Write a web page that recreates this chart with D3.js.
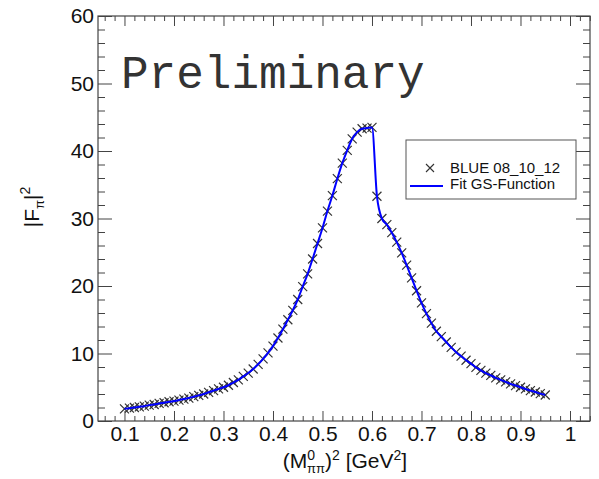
<!DOCTYPE html>
<html>
<head>
<meta charset="utf-8">
<script src="https://cdn.jsdelivr.net/npm/d3@7"></script>
<style>
  body { margin: 0; background: #fff; }
  svg { display: block; font-family: "Liberation Sans", Arial, sans-serif; }
</style>
</head>
<body>
<div id="chart"></div>
<script>
// squared pi-pi mass [GeV^2]
var massSq = [0.10, 0.11, 0.12, 0.13, 0.14, 0.15, 0.16, 0.17, 0.18, 0.19,
              0.20, 0.21, 0.22, 0.23, 0.24, 0.25, 0.26, 0.27, 0.28, 0.29,
              0.30, 0.31, 0.32, 0.33, 0.34, 0.35, 0.36, 0.37, 0.38, 0.39,
              0.40, 0.41, 0.42, 0.43, 0.44, 0.45, 0.46, 0.47, 0.48, 0.49,
              0.50, 0.51, 0.52, 0.53, 0.54, 0.55, 0.56, 0.57, 0.58, 0.59,
              0.60, 0.61, 0.62, 0.63, 0.64, 0.65, 0.66, 0.67, 0.68, 0.69,
              0.70, 0.71, 0.72, 0.73, 0.74, 0.75, 0.76, 0.77, 0.78, 0.79,
              0.80, 0.81, 0.82, 0.83, 0.84, 0.85, 0.86, 0.87, 0.88, 0.89,
              0.90, 0.91, 0.92, 0.93, 0.94, 0.95];
// |F_pi|^2 (BLUE 08_10_12)
var formFactor = [1.8, 1.9, 2.0, 2.1, 2.2, 2.35, 2.45, 2.6, 2.7, 2.85,
                  2.95, 3.1, 3.25, 3.4, 3.6, 3.8, 4.0, 4.25, 4.5, 4.75,
                  5.0, 5.3, 5.7, 6.1, 6.6, 7.1, 7.7, 8.4, 9.2, 10.1,
                  11.1, 12.3, 13.6, 15.0, 16.4, 18.0, 19.9, 21.8, 24.0, 26.3,
                  28.6, 31.1, 33.4, 35.9, 38.2, 40.1, 41.8, 42.8, 43.3, 43.4,
                  43.5, 33.3, 30.0, 29.1, 27.9, 26.5, 24.9, 23.1, 21.2, 19.3,
                  17.5, 15.9, 14.5, 13.3, 12.5, 11.7, 10.9, 10.2, 9.6, 9.0,
                  8.5, 7.95, 7.5, 7.1, 6.75, 6.4, 6.1, 5.8, 5.5, 5.25,
                  5.0, 4.75, 4.5, 4.3, 4.05, 3.85];

var xTicks = [0.1, 0.2, 0.3, 0.4, 0.5, 0.6, 0.7, 0.8, 0.9, 1];
var yTicks = [0, 10, 20, 30, 40, 50, 60];
var legendLabels = ["BLUE 08_10_12", "Fit GS-Function"];

var width = 599, height = 479;
var frame = { left: 98, right: 590, top: 16, bottom: 421 };

var svg = d3.select("#chart").append("svg")
    .attr("width", width)
    .attr("height", height);

var x = d3.scaleLinear().domain([0.0465, 1.0404]).range([frame.left, frame.right]);
var y = d3.scaleLinear().domain([0, 60]).range([frame.bottom, frame.top]);

var xMinor = d3.range(0.06, 1.045, 0.02).filter(function (v) {
    return Math.abs(v * 10 - Math.round(v * 10)) > 0.01;
});
var yMinor = d3.range(0, 61, 2).filter(function (v) { return v % 10 != 0; });

function styleAxis(g) {
    g.select(".domain").remove();
    g.selectAll("line").attr("stroke", "#444");
    g.selectAll("text").attr("fill", "#111").style("font-size", "21px");
}

// left
svg.append("g").attr("transform", "translate(" + frame.left + ",0)")
    .call(d3.axisLeft(y).tickValues(yTicks).tickSize(-14).tickPadding(4))
    .call(styleAxis);
svg.append("g").attr("transform", "translate(" + frame.left + ",0)")
    .call(d3.axisLeft(y).tickValues(yMinor).tickSize(-7).tickFormat(""))
    .call(styleAxis);
// right
svg.append("g").attr("transform", "translate(" + frame.right + ",0)")
    .call(d3.axisRight(y).tickValues(yTicks).tickSize(-14).tickFormat(""))
    .call(styleAxis);
svg.append("g").attr("transform", "translate(" + frame.right + ",0)")
    .call(d3.axisRight(y).tickValues(yMinor).tickSize(-7).tickFormat(""))
    .call(styleAxis);
// bottom
svg.append("g").attr("transform", "translate(0," + frame.bottom + ")")
    .call(d3.axisBottom(x).tickValues(xTicks).tickSize(-10).tickPadding(5)
        .tickFormat(function (d) { return d == 1 ? "1" : d3.format(".1f")(d); }))
    .call(styleAxis);
svg.append("g").attr("transform", "translate(0," + frame.bottom + ")")
    .call(d3.axisBottom(x).tickValues(xMinor).tickSize(-5).tickFormat(""))
    .call(styleAxis);
// top
svg.append("g").attr("transform", "translate(0," + frame.top + ")")
    .call(d3.axisTop(x).tickValues(xTicks).tickSize(-10).tickFormat(""))
    .call(styleAxis);
svg.append("g").attr("transform", "translate(0," + frame.top + ")")
    .call(d3.axisTop(x).tickValues(xMinor).tickSize(-5).tickFormat(""))
    .call(styleAxis);

svg.append("rect")
    .attr("x", frame.left).attr("y", frame.top)
    .attr("width", frame.right - frame.left)
    .attr("height", frame.bottom - frame.top)
    .attr("fill", "none").attr("stroke", "#444").attr("stroke-width", 1.2);

// Preliminary
svg.append("text")
    .attr("x", 121).attr("y", 88)
    .style("font-family", "'Liberation Mono', 'DejaVu Sans Mono', monospace")
    .style("font-size", "46px")
    .attr("fill", "#333")
    .text("Preliminary");

var data = massSq.map(function (m, i) { return { m: m, f: formFactor[i] }; });

var crossPath = "M-4.5,-4.5L4.5,4.5M-4.5,4.5L4.5,-4.5";
svg.append("g").selectAll("path")
    .data(data)
    .enter().append("path")
    .attr("transform", function (d) { return "translate(" + x(d.m) + "," + y(d.f) + ")"; })
    .attr("d", crossPath)
    .attr("stroke", "#333")
    .attr("stroke-width", 1.2)
    .attr("fill", "none");

var fitLine = d3.line()
    .x(function (d) { return x(d.m); })
    .y(function (d) { return y(d.f); })
    .curve(d3.curveMonotoneX);

svg.append("path")
    .datum(data)
    .attr("d", fitLine)
    .attr("fill", "none")
    .attr("stroke", "#0000ff")
    .attr("stroke-width", 2);

// axis titles
var yTitle = svg.append("text")
    .attr("transform", "translate(39,207) rotate(-90)")
    .attr("text-anchor", "middle")
    .style("font-size", "21px")
    .attr("fill", "#111");
yTitle.append("tspan").text("|F");
yTitle.append("tspan").attr("dy", 5).style("font-size", "13px").text("π");
yTitle.append("tspan").attr("dy", -5).text("|");
yTitle.append("tspan").attr("dy", -9).style("font-size", "14px").text("2");

var xTitle = svg.append("text")
    .attr("x", 345).attr("y", 468)
    .attr("text-anchor", "middle")
    .style("font-size", "21px")
    .attr("fill", "#111");
xTitle.append("tspan").text("(M");
xTitle.append("tspan").attr("dy", -8).style("font-size", "14px").text("0");
xTitle.append("tspan").attr("dx", -8).attr("dy", 13).style("font-size", "13px").text("ππ");
xTitle.append("tspan").attr("dy", -5).text(")");
xTitle.append("tspan").attr("dy", -8).style("font-size", "14px").text("2");
xTitle.append("tspan").attr("dy", 8).text(" [GeV");
xTitle.append("tspan").attr("dy", -8).style("font-size", "14px").text("2");
xTitle.append("tspan").attr("dy", 8).text("]");

// legend
var legend = svg.append("g");
legend.append("rect")
    .attr("x", 406).attr("y", 140).attr("width", 170).attr("height", 59)
    .attr("fill", "#fff").attr("stroke", "#555").attr("stroke-width", 1);
legend.append("path")
    .attr("transform", "translate(430,168)")
    .attr("d", "M-4,-4L4,4M-4,4L4,-4")
    .attr("stroke", "#333").attr("stroke-width", 1.1);
legend.append("line")
    .attr("x1", 410).attr("x2", 443).attr("y1", 186).attr("y2", 186)
    .attr("stroke", "#0000ff").attr("stroke-width", 2);
legend.selectAll("text.lab")
    .data(legendLabels)
    .enter().append("text")
    .attr("class", "lab")
    .attr("x", 450)
    .attr("y", function (d, i) { return 173 + i * 16; })
    .style("font-size", "15px")
    .attr("fill", "#111")
    .text(function (d) { return d; });
</script>
</body>
</html>
